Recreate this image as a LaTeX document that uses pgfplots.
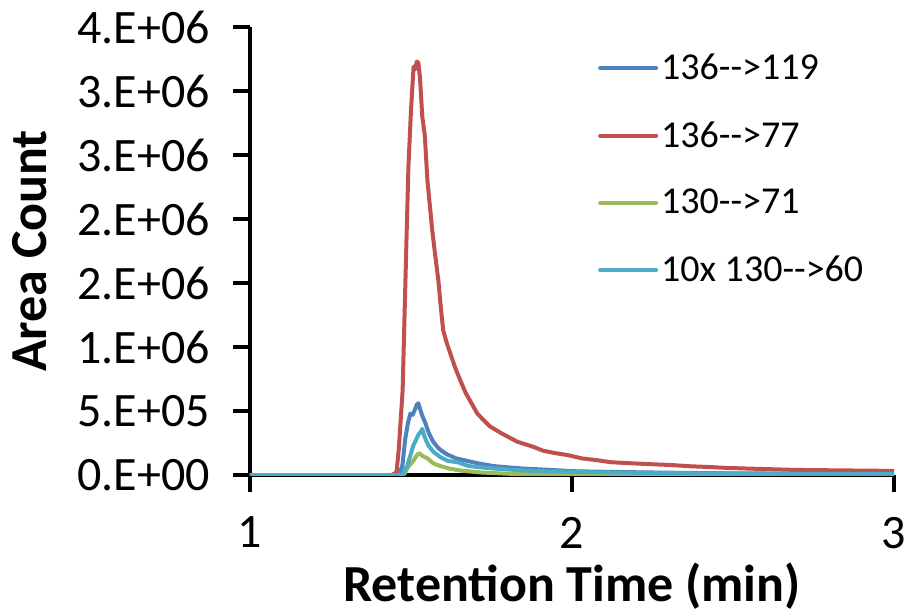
\documentclass[border=0pt]{standalone}
\usepackage{fontspec}
\setmainfont{Carlito}
\usepackage{pgfplots}
\pgfplotsset{compat=1.18}

\definecolor{xlblue}{HTML}{4F81BD}
\definecolor{xlred}{HTML}{C0504D}
\definecolor{xlgreen}{HTML}{9BBB59}
\definecolor{xlcyan}{HTML}{4BACC6}

\begin{document}
\begin{tikzpicture}
\begin{axis}[
    scale only axis,
    width=322pt, height=224pt,
    xmin=1, xmax=3, ymin=0, ymax=3.5e6,
    axis lines=left,
    axis line style={-, line width=2pt, black},
    tick align=outside,
    major tick length=8.5pt,
    every tick/.style={line width=2pt, black},
    xtick={1,2,3}, xticklabels={1,2,3},
    ytick={0,5e5,1e6,1.5e6,2e6,2.5e6,3e6,3.5e6},
    yticklabels={0.E+00,5.E+05,1.E+06,2.E+06,2.E+06,3.E+06,3.E+06,4.E+06},
    scaled y ticks=false,
    ticklabel style={font=\fontsize{24}{28}\selectfont},
    xticklabel shift=9pt,
    yticklabel shift=8pt,
    xlabel={\bfseries Retention Time (min)},
    ylabel={\bfseries Area Count},
    label style={font=\fontsize{26}{30}\selectfont},
    xlabel style={at={(axis description cs:0.5,-0.248)}, anchor=center},
    ylabel style={at={(axis description cs:-0.342,0.5)}, anchor=center},
    legend style={at={(axis description cs:0.54,0.948)}, anchor=north west,
        draw=none, fill=none, font=\fontsize{19}{22}\selectfont,
        row sep=16.5pt, inner sep=0pt, nodes={inner sep=1.5pt}},
    legend cell align=left,
    legend image code/.code={\draw[#1, line width=2pt, line cap=round] (0pt,0pt) -- (28pt,0pt);},
    every axis plot/.append style={line width=2pt, line join=round},
]
% 136-->119
\addplot[xlblue] coordinates {
 (1.0,0) (1.455,0) (1.465,0.02e6) (1.473,0.07e6) (1.482,0.28e6) (1.490,0.40e6)
 (1.498,0.48e6) (1.505,0.47e6) (1.512,0.51e6) (1.518,0.55e6) (1.523,0.56e6)
 (1.530,0.50e6) (1.537,0.45e6) (1.544,0.41e6) (1.555,0.33e6) (1.569,0.26e6)
 (1.585,0.21e6) (1.600,0.18e6) (1.613,0.16e6) (1.640,0.13e6) (1.675,0.11e6)
 (1.710,0.09e6) (1.756,0.07e6) (1.800,0.06e6) (1.850,0.05e6) (1.933,0.04e6)
 (2.000,0.03e6) (2.100,0.025e6) (2.300,0.018e6) (2.500,0.013e6) (2.750,0.01e6)
 (3.000,0.008e6)
};
\addlegendentry{136-{}->119}
% 136-->77
\addplot[xlred] coordinates {
 (1.0,0) (1.440,0) (1.455,0.02e6) (1.462,0.20e6) (1.474,0.66e6) (1.486,1.84e6)
 (1.492,2.41e6) (1.500,2.85e6) (1.508,3.19e6) (1.513,3.17e6) (1.518,3.23e6)
 (1.523,3.22e6) (1.528,3.10e6) (1.535,2.80e6) (1.543,2.65e6) (1.551,2.30e6)
 (1.558,2.12e6) (1.566,1.91e6) (1.575,1.72e6) (1.585,1.52e6) (1.593,1.30e6)
 (1.600,1.13e6) (1.610,1.04e6) (1.622,0.95e6) (1.637,0.84e6) (1.653,0.74e6)
 (1.670,0.64e6) (1.688,0.56e6) (1.706,0.48e6) (1.725,0.43e6) (1.745,0.38e6)
 (1.765,0.35e6) (1.778,0.33e6) (1.800,0.30e6) (1.830,0.26e6) (1.855,0.24e6)
 (1.880,0.22e6) (1.910,0.19e6) (1.950,0.17e6) (1.986,0.156e6) (2.030,0.13e6)
 (2.080,0.115e6) (2.120,0.10e6) (2.180,0.092e6) (2.240,0.085e6) (2.306,0.078e6)
 (2.370,0.068e6) (2.430,0.062e6) (2.484,0.055e6) (2.550,0.05e6) (2.620,0.045e6)
 (2.689,0.04e6) (2.760,0.038e6) (2.840,0.036e6) (2.920,0.034e6) (3.000,0.032e6)
};
\addlegendentry{136-{}->77}
% 130-->71
\addplot[xlgreen] coordinates {
 (1.0,0) (1.468,0) (1.480,0.01e6) (1.488,0.05e6) (1.496,0.08e6) (1.504,0.10e6)
 (1.512,0.13e6) (1.520,0.16e6) (1.526,0.17e6) (1.535,0.15e6) (1.551,0.13e6)
 (1.570,0.09e6) (1.591,0.07e6) (1.620,0.05e6) (1.653,0.035e6) (1.715,0.02e6)
 (1.800,0.01e6) (1.900,0.005e6) (2.000,0) (3.000,0)
};
\addlegendentry{130-{}->71}
% 10x 130-->60
\addplot[xlcyan] coordinates {
 (1.0,0) (1.462,0) (1.475,0.01e6) (1.488,0.07e6) (1.500,0.17e6) (1.507,0.23e6)
 (1.515,0.27e6) (1.522,0.31e6) (1.528,0.33e6) (1.535,0.36e6) (1.542,0.30e6)
 (1.554,0.23e6) (1.570,0.18e6) (1.591,0.14e6) (1.615,0.11e6) (1.644,0.10e6)
 (1.680,0.07e6) (1.715,0.06e6) (1.760,0.05e6) (1.820,0.04e6) (1.900,0.03e6)
 (2.000,0.025e6) (2.100,0.02e6) (2.300,0.015e6) (2.600,0.01e6) (3.000,0.008e6)
};
\addlegendentry{10x 130-{}->60}
\end{axis}
\pgfresetboundingbox
\path ([shift={(-125pt,-70pt)}]current axis.south west) rectangle ([shift={(7pt,13.5pt)}]current axis.north east);
\end{tikzpicture}
\end{document}
